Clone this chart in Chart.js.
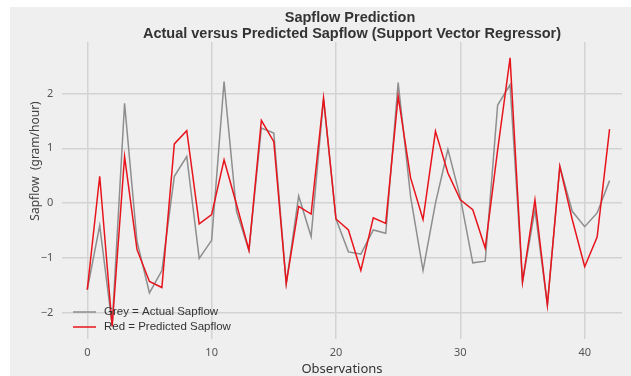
<!DOCTYPE html>
<html>
<head>
<meta charset="utf-8">
<script src="https://cdn.jsdelivr.net/npm/chart.js@4/dist/chart.umd.min.js"></script>
<style>
  html, body { margin: 0; padding: 0; background: #ffffff; }
  #wrap { width: 631px; height: 376px; position: relative; }
</style>
</head>
<body>
<div id="wrap"><canvas id="c" width="631" height="376"></canvas></div>
<script>
// Observation index 0..42
const observations = [0,1,2,3,4,5,6,7,8,9,10,11,12,13,14,15,16,17,18,19,20,21,22,23,24,25,26,27,28,29,30,31,32,33,34,35,36,37,38,39,40,41,42];

// Measured sapflow (gram/hour)
const actualSapflow = [-1.58,-0.41,-2.22,1.82,-0.70,-1.64,-1.23,0.49,0.85,-1.01,-0.68,2.22,-0.15,-0.86,1.37,1.28,-1.47,0.13,-0.61,1.90,-0.29,-0.89,-0.93,-0.49,-0.55,2.20,0.12,-1.23,0.00,0.98,0.10,-1.09,-1.06,1.79,2.16,-1.44,-0.12,-1.86,0.67,-0.15,-0.43,-0.18,0.41];

// Support Vector Regressor output
const predictedSapflow = [-1.58,0.49,-2.25,0.85,-0.85,-1.43,-1.54,1.08,1.32,-0.38,-0.21,0.79,-0.02,-0.86,1.51,1.12,-1.47,-0.06,-0.20,1.92,-0.29,-0.49,-1.23,-0.27,-0.37,1.95,0.46,-0.30,1.31,0.55,0.06,-0.12,-0.82,0.97,2.65,-1.44,0.06,-1.86,0.67,-0.30,-1.16,-0.62,1.35];

const xTicks = [0,10,20,30,40];
const yTicks = [-2,-1,0,1,2];

const seriesLabels = ['Grey = Actual Sapflow', 'Red = Predicted Sapflow'];
const titleLines = ['Sapflow Prediction', 'Actual versus Predicted Sapflow (Support Vector Regressor)'];
const xTitle = 'Observations';
const yTitle = 'Sapflow  (gram/hour)';

const GREY = '#8e8e8e';
const RED = '#e8141c';
const GRID = '#d3d3d3';
const PANEL = '#efefef';

// Panel background, titles, axis titles and legend drawn onto the canvas
const decor = {
  id: 'decor',
  beforeDraw(chart) {
    const ctx = chart.ctx;
    ctx.save();
    ctx.fillStyle = '#ffffff';
    ctx.fillRect(0, 0, chart.width, chart.height);
    ctx.fillStyle = PANEL;
    ctx.fillRect(10, 7, chart.width - 10, chart.height - 7);
    ctx.restore();
  },
  afterDraw(chart) {
    const ctx = chart.ctx;
    ctx.save();
    // titles
    ctx.fillStyle = '#333333';
    ctx.textAlign = 'center';
    ctx.textBaseline = 'middle';
    ctx.font = 'bold 14.5px "Liberation Sans", Arial, sans-serif';
    ctx.fillText(titleLines[0], 350, 18);
    ctx.fillText(titleLines[1], 352, 34);
    // x axis title
    ctx.font = '13px "Noto Sans", "Liberation Sans", sans-serif';
    ctx.fillStyle = '#333333';
    ctx.fillText(xTitle, 342, 369);
    // y axis title
    ctx.save();
    ctx.translate(36, 161);
    ctx.rotate(-Math.PI / 2);
    ctx.font = '12px "Noto Sans", "Liberation Sans", sans-serif';
    ctx.fillStyle = '#444444';
    ctx.fillText(yTitle, 0, 0);
    ctx.restore();
    // legend
    const ds = chart.data.datasets;
    const rows = [312, 327];
    ctx.textAlign = 'left';
    ctx.font = '11.5px "Liberation Sans", Arial, sans-serif';
    ds.forEach((d, i) => {
      const y = rows[i];
      ctx.strokeStyle = d.borderColor;
      ctx.lineWidth = 1.5;
      ctx.beginPath();
      ctx.moveTo(73, y);
      ctx.lineTo(96, y);
      ctx.stroke();
      ctx.fillStyle = '#333333';
      ctx.fillText(d.label, 104, y);
    });
    ctx.restore();
  }
};

const toPoints = (vals) => observations.map((x, i) => ({ x: x, y: vals[i] }));
const fmt = (v) => (v < 0 ? '\u2212' + Math.abs(v) : String(v));

new Chart(document.getElementById('c'), {
  type: 'line',
  data: {
    datasets: [
      {
        label: seriesLabels[0],
        data: toPoints(actualSapflow),
        borderColor: GREY,
        borderWidth: 1.5,
        pointRadius: 0,
        tension: 0,
        order: 1
      },
      {
        label: seriesLabels[1],
        data: toPoints(predictedSapflow),
        borderColor: RED,
        borderWidth: 1.5,
        pointRadius: 0,
        tension: 0,
        order: 0
      }
    ]
  },
  options: {
    responsive: false,
    animation: false,
    devicePixelRatio: 1,
    layout: { padding: { left: 0, top: 42, right: 9, bottom: 0 } },
    plugins: {
      legend: { display: false },
      title: { display: false },
      tooltip: { enabled: false }
    },
    scales: {
      x: {
        type: 'linear',
        min: -2,
        max: 43,
        border: { display: false },
        grid: { color: GRID, lineWidth: 1.5, drawTicks: false },
        ticks: {
          padding: 7,
          color: '#555555',
          font: { size: 11, family: '"Noto Sans", "Liberation Sans", sans-serif' },
          callback: fmt,
          maxRotation: 0
        },
        afterBuildTicks(scale) { scale.ticks = xTicks.map(v => ({ value: v })); },
        afterFit(scale) { scale.height = 37; }
      },
      y: {
        type: 'linear',
        min: -2.48,
        max: 2.94,
        border: { display: false },
        grid: { color: GRID, lineWidth: 1.5, drawTicks: false },
        ticks: {
          padding: 9,
          color: '#555555',
          font: { size: 11, family: '"Noto Sans", "Liberation Sans", sans-serif' },
          callback: fmt
        },
        afterBuildTicks(scale) { scale.ticks = yTicks.map(v => ({ value: v })); },
        afterFit(scale) { scale.width = 62.4; }
      }
    }
  },
  plugins: [decor]
});
</script>
</body>
</html>
